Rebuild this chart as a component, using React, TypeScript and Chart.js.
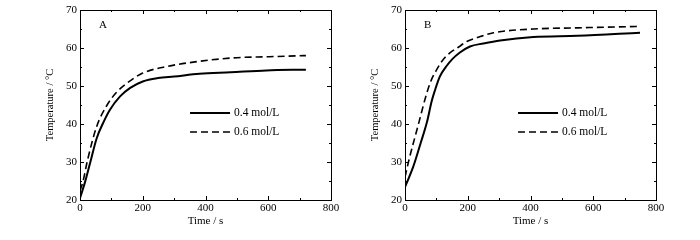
import React, { useEffect, useRef } from "react";
import { Chart, registerables } from "chart.js";

Chart.register(...registerables);

const xTicks = [0, 200, 400, 600, 800];
const yTicks = [20, 30, 40, 50, 60, 70];
const seriesNames = ["0.4 mol/L", "0.6 mol/L"];

const aTime04 = [0, 16, 33, 53, 75, 95, 127, 160, 200, 249, 300, 381, 480, 594, 720];
const aTemp04 = [20.5, 24.7, 30, 36.2, 40.5, 43.7, 47.2, 49.5, 51.2, 52.1, 52.5, 53.2, 53.6, 54.1, 54.3];
const aTime06 = [0, 9, 24, 53, 85, 115, 149, 200, 275, 381, 488, 600, 720];
const aTemp06 = [22.5, 24.7, 30.5, 39.3, 44.8, 48.2, 50.7, 53.4, 55.1, 56.5, 57.4, 57.7, 58.0];

const bTime04 = [0, 26, 50, 70, 85, 96, 107, 117, 130, 150, 175, 207, 250, 303, 409, 550, 749];
const bTemp04 = [23.4, 28.7, 35, 40.5, 46, 49, 51.7, 53.4, 55, 57, 58.8, 60.4, 61.2, 62.0, 62.9, 63.2, 64.0];
const bTime06 = [0, 11, 43, 69, 85, 101, 120, 143, 170, 197, 240, 282, 409, 550, 749];
const bTemp06 = [26.0, 30, 40, 48, 51.8, 54.3, 56.8, 58.7, 60.2, 61.7, 63, 64, 65, 65.3, 65.7];

const FONT = "'Liberation Serif', 'Times New Roman', serif";

const toPts = (xs: number[], ys: number[]) => xs.map((x, i) => ({ x, y: ys[i] }));

const frameTicks = {
  id: "frameTicks",
  afterDraw(chart: any) {
    const { ctx, chartArea: a } = chart;
    const xs = chart.scales.x;
    const ys = chart.scales.y;
    ctx.save();
    ctx.strokeStyle = "#000";
    ctx.lineWidth = 1;
    ctx.strokeRect(Math.round(a.left) + 0.5, Math.round(a.top) + 0.5, Math.round(a.right - a.left), Math.round(a.bottom - a.top));
    ctx.beginPath();
    for (let v = xs.min; v <= xs.max; v += 100) {
      const px = Math.round(xs.getPixelForValue(v)) + 0.5;
      const len = v % 200 === 0 ? 4 : 2;
      ctx.moveTo(px, a.bottom);
      ctx.lineTo(px, a.bottom - len);
      ctx.moveTo(px, a.top);
      ctx.lineTo(px, a.top + len);
    }
    for (let v = ys.min; v <= ys.max; v += 5) {
      const py = Math.round(ys.getPixelForValue(v)) + 0.5;
      const len = v % 10 === 0 ? 4 : 2;
      ctx.moveTo(a.left, py);
      ctx.lineTo(a.left + len, py);
      ctx.moveTo(a.right, py);
      ctx.lineTo(a.right - len, py);
    }
    ctx.stroke();

    const opts = chart.options.plugins.frameTicks;
    ctx.fillStyle = "#000";
    ctx.font = `11px ${FONT}`;
    ctx.textBaseline = "middle";
    ctx.textAlign = "left";
    ctx.fillText(opts.label, a.left + opts.labelDx, a.top + 15);

    const ds = chart.data.datasets;
    ds.forEach((d: any, i: number) => {
      const y = a.top + opts.legendDy + i * 19;
      const x0 = a.left + opts.legendDx;
      ctx.beginPath();
      ctx.lineWidth = d.borderWidth;
      ctx.setLineDash(d.borderDash || []);
      ctx.moveTo(x0, y);
      ctx.lineTo(x0 + 40, y);
      ctx.stroke();
      ctx.setLineDash([]);
      ctx.font = `11.5px ${FONT}`;
      ctx.fillText(d.label, x0 + 44, y);
    });
    ctx.restore();
  },
};

function Panel({ t04, v04, t06, v06, label, leftW, rightPad, titlePad, legendDx }: any) {
  const ref = useRef<HTMLCanvasElement>(null);
  useEffect(() => {
    const chart = new Chart(ref.current as HTMLCanvasElement, {
      type: "line",
      data: {
        datasets: [
          {
            label: seriesNames[0],
            data: toPts(t04, v04),
            borderColor: "#000",
            borderWidth: 2,
            pointRadius: 0,
            cubicInterpolationMode: "monotone",
            fill: false,
          },
          {
            label: seriesNames[1],
            data: toPts(t06, v06),
            borderColor: "#000",
            borderWidth: 1.6,
            borderDash: [7, 4],
            pointRadius: 0,
            cubicInterpolationMode: "monotone",
            fill: false,
          },
        ],
      },
      options: {
        responsive: false,
        animation: false,
        layout: { padding: { left: 0, top: 10, right: rightPad, bottom: 0 } },
        plugins: {
          legend: { display: false },
          tooltip: { enabled: false },
          frameTicks: { label, labelDx: 19, legendDx, legendDy: 103 },
        } as any,
        scales: {
          x: {
            type: "linear",
            min: 0,
            max: 800,
            afterFit: (s: any) => { s.height = 40; },
            afterBuildTicks: (s: any) => { s.ticks = xTicks.map((v) => ({ value: v })); },
            grid: { display: false, drawTicks: false },
            border: { display: false },
            ticks: { padding: 2, color: "#000", font: { family: FONT, size: 11 } },
            title: { display: true, text: "Time / s", color: "#000", font: { family: FONT, size: 11 }, padding: { top: 0, bottom: 12 } },
          },
          y: {
            type: "linear",
            min: 20,
            max: 70,
            afterFit: (s: any) => { s.width = leftW; },
            afterBuildTicks: (s: any) => { s.ticks = yTicks.map((v) => ({ value: v })); },
            grid: { display: false, drawTicks: false },
            border: { display: false },
            ticks: { padding: 3, color: "#000", font: { family: FONT, size: 11 } },
            title: { display: true, text: "Temperature / °C", color: "#000", font: { family: FONT, size: 10.5 }, padding: { top: titlePad, bottom: 0 } },
          },
        },
      },
      plugins: [frameTicks],
    } as any);
    return () => chart.destroy();
  }, []);
  return <canvas ref={ref} width={350} height={240} style={{ display: "block", width: 350, height: 240 }} />;
}

export default function App() {
  return (
    <div style={{ position: "absolute", left: 0, top: 0, width: 700, height: 240, display: "flex", background: "#fff" }}>
      <Panel t04={aTime04} v04={aTemp04} t06={aTime06} v06={aTemp06} label="A" leftW={80} rightPad={19} titlePad={44} legendDx={110} />
      <Panel t04={bTime04} v04={bTemp04} t06={bTime06} v06={bTemp06} label="B" leftW={55} rightPad={44} titlePad={19} legendDx={113} />
    </div>
  );
}
